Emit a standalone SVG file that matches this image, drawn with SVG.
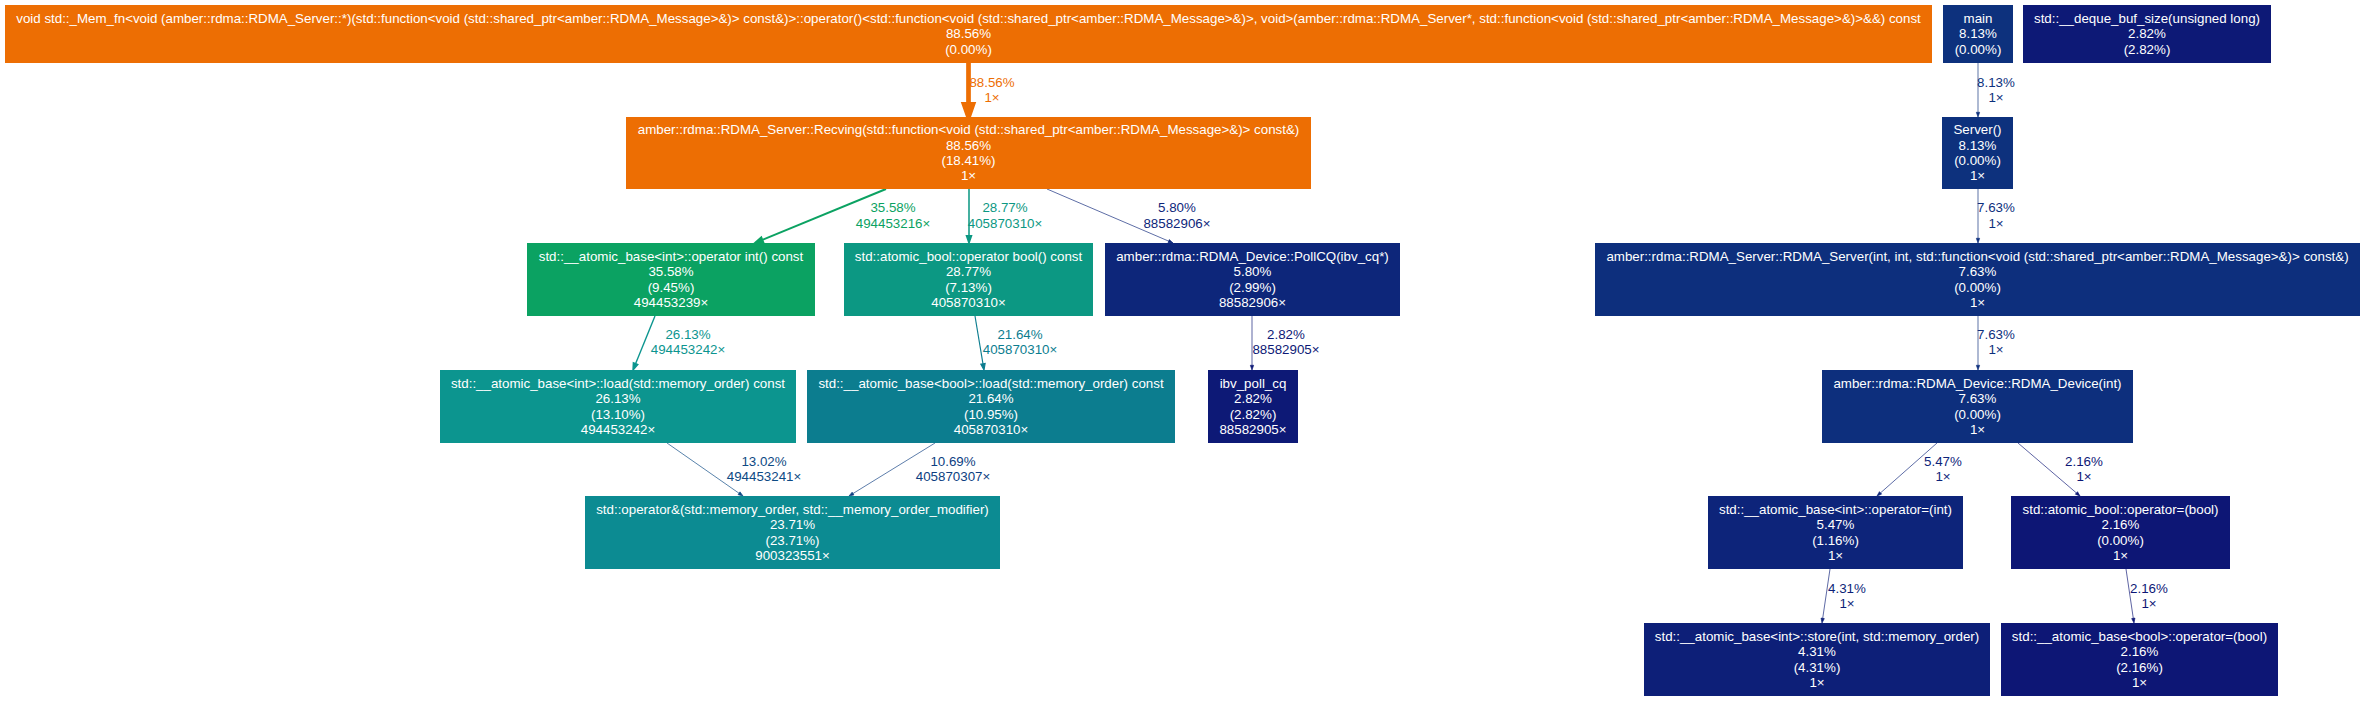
<svg xmlns="http://www.w3.org/2000/svg" width="2365" height="701" viewBox="0 0 2365 701">
<style>
text{font-family:"Liberation Sans",Arial,sans-serif;font-size:13.33px;text-anchor:middle}
.n text{fill:#ffffff}
</style>
<rect x="0" y="0" width="2365" height="701" fill="#ffffff"/>
<g id="connectors">
<g id="e1" stroke="#ed6e03" fill="#ed6e03"><line x1="968.5" y1="63" x2="968.5" y2="104.5" stroke-width="4.72"/><polygon points="968.5,117 964.1,104.45 972.9,104.45" stroke-width="4.72"/></g>
<text x="992" y="86.5" fill="#ed6e03">88.56%</text><text x="992" y="101.5" fill="#ed6e03">1×</text>
<g id="e2" stroke="#0ba262" fill="#0ba262"><line x1="886" y1="189" x2="762.35" y2="239.97" stroke-width="1.9"/><polygon points="755,243 763.41,242.54 761.29,237.4" stroke-width="1.9"/></g>
<text x="893" y="212" fill="#0ba262">35.58%</text><text x="893" y="227.5" fill="#0ba262">494453216×</text>
<g id="e3" stroke="#0c9883" fill="#0c9883"><line x1="969" y1="189" x2="969" y2="235.85" stroke-width="1.53"/><polygon points="969,243 966.5,235.85 971.5,235.85" stroke-width="1.53"/></g>
<text x="1005" y="212" fill="#0c9883">28.77%</text><text x="1005" y="227.5" fill="#0c9883">405870310×</text>
<g id="e4" stroke="#0d267a" fill="#0d267a"><line x1="1047" y1="189" x2="1168.67" y2="241.14" stroke-width="0.67"/><polygon points="1173,243 1168.02,242.66 1169.32,239.62" stroke-width="0.67"/></g>
<text x="1177" y="212" fill="#0d267a">5.80%</text><text x="1177" y="227.5" fill="#0d267a">88582906×</text>
<g id="e5" stroke="#0c958f" fill="#0c958f"><line x1="655" y1="316" x2="635.57" y2="363.69" stroke-width="1.39"/><polygon points="633,370 637.77,364.59 633.37,362.79" stroke-width="1.39"/></g>
<text x="688" y="339" fill="#0c958f">26.13%</text><text x="688" y="354" fill="#0c958f">494453242×</text>
<g id="e6" stroke="#0c7d8f" fill="#0c7d8f"><line x1="975" y1="316" x2="982.98" y2="363.88" stroke-width="1.15"/><polygon points="984,370 980.84,364.24 985.12,363.52" stroke-width="1.15"/></g>
<text x="1020" y="339" fill="#0c7d8f">21.64%</text><text x="1020" y="354" fill="#0c7d8f">405870310×</text>
<g id="e7" stroke="#0d1976" fill="#0d1976"><line x1="1252" y1="316" x2="1252" y2="365.29" stroke-width="0.67"/><polygon points="1252,370 1250.35,365.29 1253.65,365.29" stroke-width="0.67"/></g>
<text x="1286" y="339" fill="#0d1976">2.82%</text><text x="1286" y="354" fill="#0d1976">88582905×</text>
<g id="e8" stroke="#0d4a84" fill="#0d4a84"><line x1="667" y1="443" x2="739.05" y2="493.25" stroke-width="0.69"/><polygon points="743,496 738.09,494.63 740.01,491.87" stroke-width="0.69"/></g>
<text x="764" y="466" fill="#0d4a84">13.02%</text><text x="764" y="481" fill="#0d4a84">494453241×</text>
<g id="e9" stroke="#0d3e81" fill="#0d3e81"><line x1="935" y1="443" x2="853.01" y2="493.53" stroke-width="0.67"/><polygon points="849,496 853.88,494.93 852.14,492.13" stroke-width="0.67"/></g>
<text x="953" y="466" fill="#0d3e81">10.69%</text><text x="953" y="481" fill="#0d3e81">405870307×</text>
<g id="e10" stroke="#0d317d" fill="#0d317d"><line x1="1978" y1="63" x2="1978" y2="112.29" stroke-width="0.67"/><polygon points="1978,117 1976.35,112.29 1979.65,112.29" stroke-width="0.67"/></g>
<text x="1996" y="86.5" fill="#0d317d">8.13%</text><text x="1996" y="101.5" fill="#0d317d">1×</text>
<g id="e11" stroke="#0d2f7d" fill="#0d2f7d"><line x1="1978" y1="189" x2="1978" y2="238.29" stroke-width="0.67"/><polygon points="1978,243 1976.35,238.29 1979.65,238.29" stroke-width="0.67"/></g>
<text x="1996" y="212" fill="#0d2f7d">7.63%</text><text x="1996" y="227.5" fill="#0d2f7d">1×</text>
<g id="e12" stroke="#0d2f7d" fill="#0d2f7d"><line x1="1978" y1="316" x2="1978" y2="365.29" stroke-width="0.67"/><polygon points="1978,370 1976.35,365.29 1979.65,365.29" stroke-width="0.67"/></g>
<text x="1996" y="339" fill="#0d2f7d">7.63%</text><text x="1996" y="354" fill="#0d2f7d">1×</text>
<g id="e13" stroke="#0d247a" fill="#0d247a"><line x1="1937" y1="443" x2="1880.53" y2="492.88" stroke-width="0.67"/><polygon points="1877,496 1881.62,494.12 1879.44,491.64" stroke-width="0.67"/></g>
<text x="1943" y="466" fill="#0d247a">5.47%</text><text x="1943" y="481" fill="#0d247a">1×</text>
<g id="e14" stroke="#0d1675" fill="#0d1675"><line x1="2018" y1="443" x2="2076.42" y2="492.94" stroke-width="0.67"/><polygon points="2080,496 2075.35,494.19 2077.49,491.69" stroke-width="0.67"/></g>
<text x="2084" y="466" fill="#0d1675">2.16%</text><text x="2084" y="481" fill="#0d1675">1×</text>
<g id="e15" stroke="#0d1f78" fill="#0d1f78"><line x1="1830" y1="569" x2="1822.69" y2="618.34" stroke-width="0.67"/><polygon points="1822,623 1824.32,618.58 1821.06,618.1" stroke-width="0.67"/></g>
<text x="1847" y="593" fill="#0d1f78">4.31%</text><text x="1847" y="608" fill="#0d1f78">1×</text>
<g id="e16" stroke="#0d1675" fill="#0d1675"><line x1="2126" y1="569" x2="2133.31" y2="618.34" stroke-width="0.67"/><polygon points="2134,623 2131.68,618.58 2134.94,618.1" stroke-width="0.67"/></g>
<text x="2149" y="593" fill="#0d1675">2.16%</text><text x="2149" y="608" fill="#0d1675">1×</text>
</g>
<g id="nA" class="n"><rect x="5" y="5" width="1927" height="58" fill="#ed6e03"/>
<text x="968.5" y="23.1">void std::_Mem_fn&lt;void (amber::rdma::RDMA_Server::*)(std::function&lt;void (std::shared_ptr&lt;amber::RDMA_Message&gt;&amp;)&gt; const&amp;)&gt;::operator()&lt;std::function&lt;void (std::shared_ptr&lt;amber::RDMA_Message&gt;&amp;)&gt;, void&gt;(amber::rdma::RDMA_Server*, std::function&lt;void (std::shared_ptr&lt;amber::RDMA_Message&gt;&amp;)&gt;&amp;&amp;) const</text>
<text x="968.5" y="38.4">88.56%</text><text x="968.5" y="53.8">(0.00%)</text></g>
<g id="nB" class="n"><rect x="626" y="117" width="685" height="72" fill="#ed6e03"/>
<text x="968.5" y="134.4">amber::rdma::RDMA_Server::Recving(std::function&lt;void (std::shared_ptr&lt;amber::RDMA_Message&gt;&amp;)&gt; const&amp;)</text>
<text x="968.5" y="149.7">88.56%</text><text x="968.5" y="165">(18.41%)</text><text x="968.5" y="180.4">1×</text></g>
<g id="nC" class="n"><rect x="527" y="243" width="288" height="73" fill="#0ba262"/>
<text x="671" y="260.9">std::__atomic_base&lt;int&gt;::operator int() const</text>
<text x="671" y="276.2">35.58%</text><text x="671" y="291.5">(9.45%)</text><text x="671" y="306.9">494453239×</text></g>
<g id="nD" class="n"><rect x="844" y="243" width="249" height="73" fill="#0c9883"/>
<text x="968.5" y="260.9">std::atomic_bool::operator bool() const</text>
<text x="968.5" y="276.2">28.77%</text><text x="968.5" y="291.5">(7.13%)</text><text x="968.5" y="306.9">405870310×</text></g>
<g id="nE" class="n"><rect x="1105" y="243" width="295" height="73" fill="#0d267a"/>
<text x="1252.5" y="260.9">amber::rdma::RDMA_Device::PollCQ(ibv_cq*)</text>
<text x="1252.5" y="276.2">5.80%</text><text x="1252.5" y="291.5">(2.99%)</text><text x="1252.5" y="306.9">88582906×</text></g>
<g id="nF" class="n"><rect x="440" y="370" width="356" height="73" fill="#0c958f"/>
<text x="618" y="387.9">std::__atomic_base&lt;int&gt;::load(std::memory_order) const</text>
<text x="618" y="403.2">26.13%</text><text x="618" y="418.5">(13.10%)</text><text x="618" y="433.9">494453242×</text></g>
<g id="nG" class="n"><rect x="807" y="370" width="368" height="73" fill="#0c7d8f"/>
<text x="991" y="387.9">std::__atomic_base&lt;bool&gt;::load(std::memory_order) const</text>
<text x="991" y="403.2">21.64%</text><text x="991" y="418.5">(10.95%)</text><text x="991" y="433.9">405870310×</text></g>
<g id="nH" class="n"><rect x="1208" y="370" width="90" height="73" fill="#0d1976"/>
<text x="1253" y="387.9">ibv_poll_cq</text>
<text x="1253" y="403.2">2.82%</text><text x="1253" y="418.5">(2.82%)</text><text x="1253" y="433.9">88582905×</text></g>
<g id="nI" class="n"><rect x="585" y="496" width="415" height="73" fill="#0c8b92"/>
<text x="792.5" y="513.9">std::operator&amp;(std::memory_order, std::__memory_order_modifier)</text>
<text x="792.5" y="529.2">23.71%</text><text x="792.5" y="544.5">(23.71%)</text><text x="792.5" y="559.9">900323551×</text></g>
<g id="nJ" class="n"><rect x="1943" y="5" width="70" height="58" fill="#0d317d"/>
<text x="1978" y="23.1">main</text><text x="1978" y="38.4">8.13%</text><text x="1978" y="53.8">(0.00%)</text></g>
<g id="nK" class="n"><rect x="2023" y="5" width="248" height="58" fill="#0d1976"/>
<text x="2147" y="23.1">std::__deque_buf_size(unsigned long)</text><text x="2147" y="38.4">2.82%</text><text x="2147" y="53.8">(2.82%)</text></g>
<g id="nL" class="n"><rect x="1942" y="117" width="71" height="72" fill="#0d317d"/>
<text x="1977.5" y="134.4">Server()</text><text x="1977.5" y="149.7">8.13%</text><text x="1977.5" y="165">(0.00%)</text><text x="1977.5" y="180.4">1×</text></g>
<g id="nM" class="n"><rect x="1595" y="243" width="765" height="73" fill="#0d2f7d"/>
<text x="1977.5" y="260.9">amber::rdma::RDMA_Server::RDMA_Server(int, int, std::function&lt;void (std::shared_ptr&lt;amber::RDMA_Message&gt;&amp;)&gt; const&amp;)</text>
<text x="1977.5" y="276.2">7.63%</text><text x="1977.5" y="291.5">(0.00%)</text><text x="1977.5" y="306.9">1×</text></g>
<g id="nN" class="n"><rect x="1822" y="370" width="311" height="73" fill="#0d2f7d"/>
<text x="1977.5" y="387.9">amber::rdma::RDMA_Device::RDMA_Device(int)</text>
<text x="1977.5" y="403.2">7.63%</text><text x="1977.5" y="418.5">(0.00%)</text><text x="1977.5" y="433.9">1×</text></g>
<g id="nO" class="n"><rect x="1708" y="496" width="255" height="73" fill="#0d247a"/>
<text x="1835.5" y="513.9">std::__atomic_base&lt;int&gt;::operator=(int)</text>
<text x="1835.5" y="529.2">5.47%</text><text x="1835.5" y="544.5">(1.16%)</text><text x="1835.5" y="559.9">1×</text></g>
<g id="nP" class="n"><rect x="2011" y="496" width="219" height="73" fill="#0d1675"/>
<text x="2120.5" y="513.9">std::atomic_bool::operator=(bool)</text>
<text x="2120.5" y="529.2">2.16%</text><text x="2120.5" y="544.5">(0.00%)</text><text x="2120.5" y="559.9">1×</text></g>
<g id="nQ" class="n"><rect x="1644" y="623" width="346" height="73" fill="#0d1f78"/>
<text x="1817" y="640.9">std::__atomic_base&lt;int&gt;::store(int, std::memory_order)</text>
<text x="1817" y="656.2">4.31%</text><text x="1817" y="671.5">(4.31%)</text><text x="1817" y="686.9">1×</text></g>
<g id="nR" class="n"><rect x="2001" y="623" width="277" height="73" fill="#0d1675"/>
<text x="2139.5" y="640.9">std::__atomic_base&lt;bool&gt;::operator=(bool)</text>
<text x="2139.5" y="656.2">2.16%</text><text x="2139.5" y="671.5">(2.16%)</text><text x="2139.5" y="686.9">1×</text></g>
</svg>
